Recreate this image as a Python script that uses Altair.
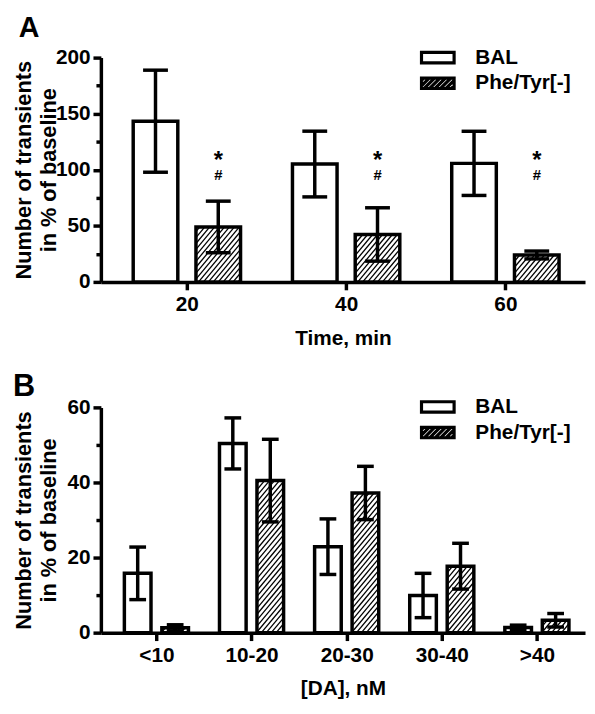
import pandas as pd
import altair as alt

FONT = "Liberation Sans"

# ---------------- data ----------------
groups = ["BAL", "Phe/Tyr[-]"]

a_cats = ["20", "40", "60"]
a_bal = [143.3, 105.1, 105.7]
a_bal_err = [45.5, 29.3, 28.6]
a_phe = [49.0, 42.3, 24.0]
a_phe_err = [23.0, 23.8, 3.5]
a_sig = ["20", "40", "60"]

b_cats = ["<10", "10-20", "20-30", "30-40", ">40"]
b_bal = [15.8, 50.4, 22.9, 9.9, 1.4]
b_bal_err = [7.0, 6.8, 7.4, 5.9, 0.6]
b_phe = [1.3, 40.5, 37.2, 17.7, 3.3]
b_phe_err = [0.8, 11.0, 7.1, 6.1, 1.8]
b_sig = []

# ---------------- layout constants ----------------
OFF = 0.197      # group offset from category centre (x units)
HALF = 0.14      # bar half width (x units)


def hatch_segments(x0, w_px, h_px, spacing=5.0, slope=1.2):
    """Diagonal '/' hatch segments clipped to a w x h pixel box, in pixel coords."""
    segs = []
    step = slope * spacing
    c = -slope * w_px + step / 2
    while c < h_px:
        xa = max(0.0, -c / slope)
        xb = min(w_px, (h_px - c) / slope)
        if xb - xa > 0.2:
            segs.append((xa, slope * xa + c, xb, slope * xb + c))
        c += step
    return segs


def legend_paths():
    unit = 9.0
    hw, hh = 16.5, 5.25
    box = f"M{-hw/unit:.3f},{-hh/unit:.3f}H{hw/unit:.3f}V{hh/unit:.3f}H{-hw/unit:.3f}Z"
    hatch = ""
    for xa, ua, xb, ub in hatch_segments(0, 2 * hw, 2 * hh, spacing=5.5, slope=1.0):
        hatch += (f"M{(-hw + xa)/unit:.3f},{(hh - ua)/unit:.3f}"
                  f"L{(-hw + xb)/unit:.3f},{(hh - ub)/unit:.3f}")
    return [box, box + hatch]


def panel(letter, cats, bal, bal_err, phe, phe_err, sig, ymax, major, minor,
          xdom, width, height, cap_half, xtitle, legx, legy, title_dx, title_x,
          letter_size, letter_offset):
    rows = []
    for i, c in enumerate(cats):
        for g, vals, errs, off in ((groups[0], bal, bal_err, -OFF),
                                   (groups[1], phe, phe_err, OFF)):
            xc = i + 1 + off
            rows.append(dict(cat=c, group=g, value=vals[i], err=errs[i], xc=xc,
                             xl=xc - HALF, xr=xc + HALF,
                             lo=vals[i] - errs[i], hi=vals[i] + errs[i],
                             cl=xc - cap_half, cr=xc + cap_half))
    df = pd.DataFrame(rows)

    sx = width / (xdom[1] - xdom[0])
    sy = height / ymax
    hrows = []
    for _, r in df[df.group == groups[1]].iterrows():
        for xa, ua, xb, ub in hatch_segments(r.xl, (r.xr - r.xl) * sx, r.value * sy):
            hrows.append(dict(hx1=r.xl + xa / sx, hy1=ua / sy,
                              hx2=r.xl + xb / sx, hy2=ub / sy))
    hdf = pd.DataFrame(hrows)

    xs = alt.Scale(domain=xdom, nice=False, zero=False)
    ys = alt.Scale(domain=[0, ymax], nice=False)
    lab = "[" + ",".join('"' + c + '"' for c in [""] + cats) + "]"
    xax = alt.Axis(values=list(range(1, len(cats) + 1)),
                   labelExpr=f"{lab}[datum.value]", title=xtitle,
                   grid=False, tickSize=8, labelPadding=4, titlePadding=13,
                   labelFlush=False, labelOverlap=False)
    yax = alt.Axis(values=list(range(0, ymax + 1, minor)),
                   labelExpr=f"datum.value % {major} === 0 ? datum.label : ''",
                   tickSize={"condition": {"test": f"datum.value % {major} === 0", "value": 8},
                             "value": 5},
                   title=["Number of transients", "in % of baseline"],
                   titleLineHeight=25, titleFontSize=22, grid=False, labelPadding=3,
                   labelOverlap=False, labelFlush=False, titleX=title_x)

    X = lambda f: alt.X(f, type="quantitative", scale=xs, axis=xax)
    Y = lambda f: alt.Y(f, type="quantitative", scale=ys, axis=yax)

    bars = alt.Chart(df).mark_rect(fill="white", stroke="black", strokeWidth=3.5).encode(
        x=X("xl"), x2="xr", y=Y("value"), y2=alt.datum(0))
    hatch = alt.Chart(hdf).mark_rule(stroke="black", strokeWidth=1.3).encode(
        x=X("hx1"), x2="hx2", y=Y("hy1"), y2="hy2")
    evert = alt.Chart(df).mark_rule(stroke="black", strokeWidth=3.5).encode(
        x=X("xc"), y=Y("lo"), y2="hi")
    ctop = alt.Chart(df).mark_rule(stroke="black", strokeWidth=3.5).encode(
        x=X("cl"), x2="cr", y=Y("hi"))
    cbot = alt.Chart(df).mark_rule(stroke="black", strokeWidth=3.5).encode(
        x=X("cl"), x2="cr", y=Y("lo"))
    leg = alt.Chart(df).mark_point(opacity=0, filled=False, stroke="black",
                                   strokeWidth=3).encode(
        x=X("xc"), y=Y("value"),
        shape=alt.Shape("group:N",
                        scale=alt.Scale(domain=groups, range=legend_paths()),
                        legend=alt.Legend(title=None, orient="none",
                                          legendX=legx, legendY=legy,
                                          labelFont=FONT, labelFontSize=21,
                                          labelFontWeight="bold", labelColor="black",
                                          symbolSize=324, symbolStrokeWidth=3.2,
                                          symbolFillColor="white",
                                          symbolStrokeColor="black",
                                          symbolOpacity=1, labelOffset=27,
                                          rowPadding=2, padding=0)))
    layers = [bars, hatch, evert, ctop, cbot, leg]
    if sig:
        sdf = df[(df.group == groups[1]) & (df.cat.isin(sig))].copy()
        star = alt.Chart(sdf).mark_text(text="*", font=FONT, fontWeight="bold",
                                        fontSize=24, baseline="middle").encode(
            x=X("xc"), y=alt.Y("s:Q", scale=ys, axis=yax)).transform_calculate(s="107.5")
        hsh = alt.Chart(sdf).mark_text(text="#", font=FONT, fontWeight="bold",
                                       fontSize=15, baseline="middle").encode(
            x=X("xc"), y=alt.Y("s:Q", scale=ys, axis=yax)).transform_calculate(s="95")
        layers += [star, hsh]
    return alt.layer(*layers).properties(
        width=width, height=height,
        title=alt.TitleParams(letter, anchor="start", fontSize=letter_size,
                              fontWeight="bold", font=FONT, color="black",
                              dx=title_dx, offset=letter_offset))


pa = panel("A", a_cats, a_bal, a_bal_err, a_phe, a_phe_err, a_sig, 200, 50, 25,
           [0.46, 3.5], 490, 227, 0.078, "Time, min", 330, -11, 6, -66, 29, 4)
pb = panel("B", b_cats, b_bal, b_bal_err, b_phe, b_phe_err, b_sig, 60, 20, 10,
           [0.416, 5.506], 490, 228, 0.088, "[DA], nM", 330, -11.5, 0, -66, 31, -7)

chart = alt.vconcat(pa, pb, spacing=23).resolve_scale(
    x="independent", y="independent", shape="independent"
).resolve_legend(shape="independent").configure(
    font=FONT, padding={"left": 4, "top": 2, "right": 2, "bottom": 2}
).configure_view(stroke=None).configure_axis(
    labelFont=FONT, labelFontSize=21, labelFontWeight="bold", labelColor="black",
    titleFont=FONT, titleFontSize=21, titleFontWeight="bold", titleColor="black",
    domainColor="black", domainWidth=3.5, tickColor="black", tickWidth=3.5,
)

chart.save("out.html", embed_options={"renderer": "svg", "actions": False})
